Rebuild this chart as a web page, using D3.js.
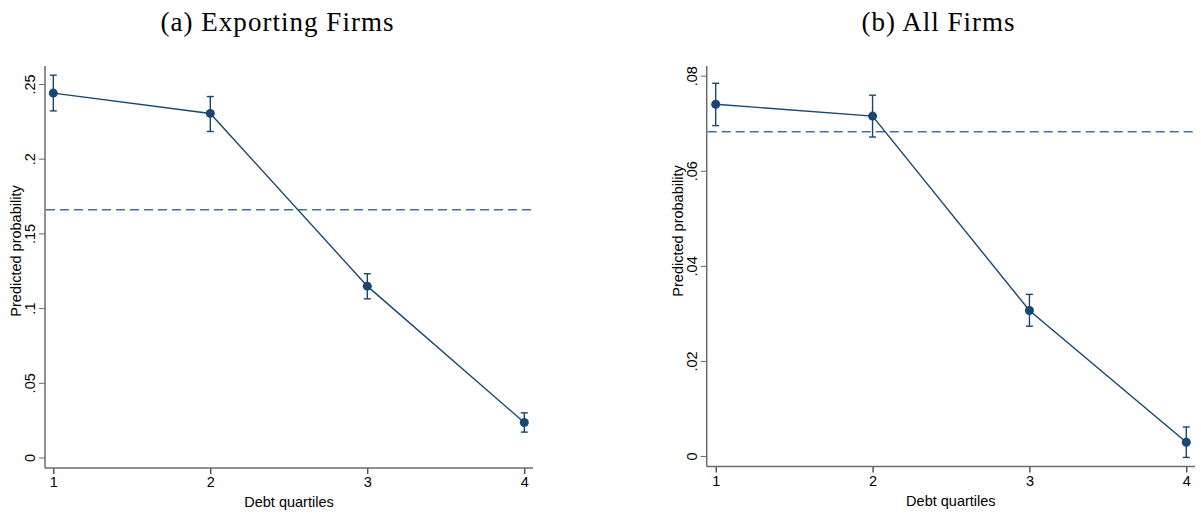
<!DOCTYPE html>
<html>
<head>
<meta charset="utf-8">
<script src="https://cdn.jsdelivr.net/npm/d3@7"></script>
<style>
  body { margin: 0; background: #fff; }
  svg { display: block; }
</style>
</head>
<body>
<div id="chart"></div>
<script>
// quartile categories shared by both panels
var quartiles = [1, 2, 3, 4];

// (a) exporting firms
var exportProb = [0.2439, 0.2303, 0.1147, 0.0234];
var exportLow  = [0.2320, 0.2182, 0.1062, 0.0170];
var exportHigh = [0.2559, 0.2416, 0.1230, 0.0299];
var exportMean = 0.1658;
var exportTicks = [0, 0.05, 0.1, 0.15, 0.2, 0.25];
var exportTickLabels = ["0", ".05", ".1", ".15", ".2", ".25"];

// (b) all firms
var allProb = [0.0740, 0.0715, 0.0306, 0.0029];
var allLow  = [0.0695, 0.0671, 0.0273, -0.0003];
var allHigh = [0.0784, 0.0759, 0.0340, 0.0061];
var allMean = 0.0682;
var allTicks = [0, 0.02, 0.04, 0.06, 0.08];
var allTickLabels = ["0", ".02", ".04", ".06", ".08"];

var svgWidth = 1201;
var svgHeight = 514;
var lineColor = "#1a476f";
var meanColor = "#46709a";
var axisColor = "#6b6b6b";

var svg = d3.select("#chart")
  .append("svg")
  .attr("width", svgWidth)
  .attr("height", svgHeight);

function drawPanel(opt) {
  var g = svg.append("g");

  var x = d3.scaleLinear().domain([1, 4]).range([opt.x1, opt.x4]);
  var y = d3.scaleLinear().domain([0, opt.tickMax]).range([opt.y0, opt.yTop]);

  // title
  g.append("text")
    .attr("x", opt.titleX)
    .attr("y", 31)
    .attr("text-anchor", "middle")
    .attr("textLength", opt.titleLen)
    .style("font-family", "'Liberation Serif', 'DejaVu Serif', serif")
    .style("font-size", "27px")
    .text(opt.title);

  // left axis
  var leftAxis = d3.axisLeft(y)
    .tickValues(opt.ticks)
    .tickFormat(function(d, i) { return opt.tickLabels[i]; })
    .tickSize(6)
    .tickSizeOuter(0);
  var ya = g.append("g")
    .attr("transform", "translate(" + opt.axisX + ",0)")
    .call(leftAxis);
  ya.select(".domain").remove();
  ya.append("line")
    .attr("x1", 0).attr("x2", 0)
    .attr("y1", 66).attr("y2", opt.axisY)
    .attr("stroke", axisColor).attr("stroke-width", 1.5);
  ya.selectAll(".tick line").attr("stroke", axisColor);
  ya.selectAll(".tick text")
    .attr("x", null).attr("dy", null)
    .attr("text-anchor", "middle")
    .attr("transform", "translate(-15,0) rotate(-90)")
    .attr("dy", "0.35em")
    .style("font-family", "'Liberation Sans', Arial, sans-serif")
    .style("font-size", "14.5px")
    .attr("fill", "#000");

  // bottom axis
  var bottomAxis = d3.axisBottom(x)
    .tickValues(quartiles)
    .tickFormat(d3.format("d"))
    .tickSize(6)
    .tickSizeOuter(0);
  var xa = g.append("g")
    .attr("transform", "translate(0," + opt.axisY + ")")
    .call(bottomAxis);
  xa.select(".domain").remove();
  xa.append("line")
    .attr("x1", opt.axisX).attr("x2", opt.axisRight)
    .attr("y1", 0).attr("y2", 0)
    .attr("stroke", axisColor).attr("stroke-width", 1.5);
  xa.selectAll(".tick line").attr("stroke", "#000");
  xa.selectAll(".tick text")
    .attr("y", 9)
    .style("font-family", "'Liberation Sans', Arial, sans-serif")
    .style("font-size", "14.5px")
    .attr("fill", "#000");

  // axis titles
  g.append("text")
    .attr("transform", "translate(" + opt.ylabX + "," + opt.ylabY + ") rotate(-90)")
    .attr("text-anchor", "middle")
    .attr("dy", "0.35em")
    .style("font-family", "'Liberation Sans', Arial, sans-serif")
    .style("font-size", "14.5px")
    .text("Predicted probability");

  g.append("text")
    .attr("x", (opt.axisX + opt.axisRight) / 2)
    .attr("y", opt.axisY + 39)
    .attr("text-anchor", "middle")
    .style("font-family", "'Liberation Sans', Arial, sans-serif")
    .style("font-size", "14.5px")
    .text("Debt quartiles");

  // mean (dashed) line
  g.append("line")
    .attr("x1", opt.axisX + 1).attr("x2", opt.axisRight)
    .attr("y1", y(opt.mean)).attr("y2", y(opt.mean))
    .attr("stroke", meanColor)
    .attr("stroke-width", 1.6)
    .attr("stroke-dasharray", "9,5");

  // connecting line
  var line = d3.line()
    .x(function(d, i) { return x(quartiles[i]); })
    .y(function(d) { return y(d); });
  g.append("path")
    .datum(opt.prob)
    .attr("d", line)
    .attr("fill", "none")
    .attr("stroke", lineColor)
    .attr("stroke-width", 1.4);

  // error bars
  var bars = g.selectAll(".ci")
    .data(quartiles)
    .enter()
    .append("g")
    .attr("class", "ci");
  bars.append("line")
    .attr("x1", function(d) { return x(d); })
    .attr("x2", function(d) { return x(d); })
    .attr("y1", function(d, i) { return y(opt.low[i]); })
    .attr("y2", function(d, i) { return y(opt.high[i]); })
    .attr("stroke", lineColor).attr("stroke-width", 1.4);
  [opt.low, opt.high].forEach(function(arr) {
    bars.append("line")
      .attr("x1", function(d) { return x(d) - 3.5; })
      .attr("x2", function(d) { return x(d) + 3.5; })
      .attr("y1", function(d, i) { return y(arr[i]); })
      .attr("y2", function(d, i) { return y(arr[i]); })
      .attr("stroke", lineColor).attr("stroke-width", 1.4);
  });

  // markers
  g.selectAll(".pt")
    .data(opt.prob)
    .enter()
    .append("circle")
    .attr("class", "pt")
    .attr("cx", function(d, i) { return x(quartiles[i]); })
    .attr("cy", function(d) { return y(d); })
    .attr("r", 4.5)
    .attr("fill", lineColor);
}

drawPanel({
  title: "(a) Exporting Firms", titleX: 277, titleLen: 233,
  prob: exportProb, low: exportLow, high: exportHigh, mean: exportMean,
  ticks: exportTicks, tickLabels: exportTickLabels, tickMax: 0.25,
  x1: 53.3, x4: 524.3, y0: 457.5, yTop: 84,
  axisX: 45, axisRight: 533, axisY: 468,
  ylabX: 16, ylabY: 251
});

drawPanel({
  title: "(b) All Firms", titleX: 938, titleLen: 153,
  prob: allProb, low: allLow, high: allHigh, mean: allMean,
  ticks: allTicks, tickLabels: allTickLabels, tickMax: 0.08,
  x1: 715.7, x4: 1186.3, y0: 456, yTop: 75.7,
  axisX: 706.7, axisRight: 1195, axisY: 466.5,
  ylabX: 678, ylabY: 231
});
</script>
</body>
</html>
